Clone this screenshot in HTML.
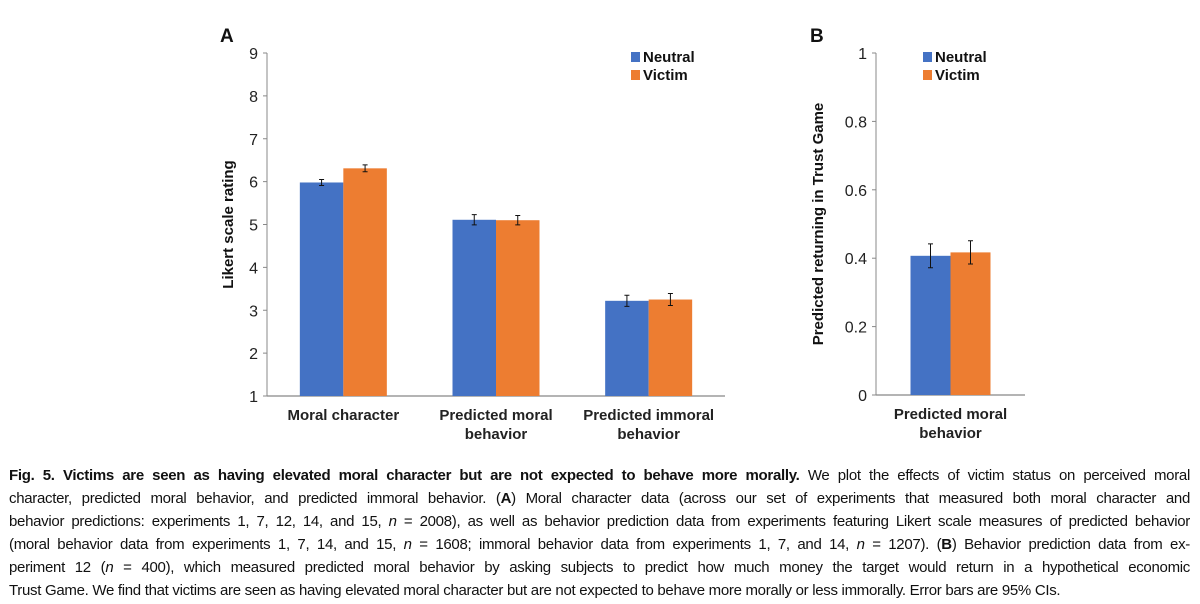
<!DOCTYPE html>
<html><head><meta charset="utf-8"><style>
body{margin:0;background:#fff;width:1200px;height:604px;overflow:hidden;font-family:"Liberation Sans",sans-serif}
svg text{font-family:"Liberation Sans",sans-serif}
.cap{position:absolute;left:9px;width:1181px;font-family:"Liberation Sans Narrow","Liberation Sans",sans-serif;font-size:15px;letter-spacing:-0.3px;line-height:23px;color:#111;text-align:justify;text-align-last:justify;white-space:nowrap}
</style></head><body>
<svg width="1200" height="460" style="position:absolute;left:0;top:0" id="chart"></svg>
<div>
<div class="cap" style="top:464px"><b>Fig. 5. Victims are seen as having elevated moral character but are not expected to behave more morally.</b> We plot the effects of victim status on perceived moral</div>
<div class="cap" style="top:487px">character, predicted moral behavior, and predicted immoral behavior. (<b>A</b>) Moral character data (across our set of experiments that measured both moral character and</div>
<div class="cap" style="top:510px">behavior predictions: experiments 1, 7, 12, 14, and 15, <i>n</i> = 2008), as well as behavior prediction data from experiments featuring Likert scale measures of predicted behavior</div>
<div class="cap" style="top:533px">(moral behavior data from experiments 1, 7, 14, and 15, <i>n</i> = 1608; immoral behavior data from experiments 1, 7, and 14, <i>n</i> = 1207). (<b>B</b>) Behavior prediction data from ex-</div>
<div class="cap" style="top:556px">periment 12 (<i>n</i> = 400), which measured predicted moral behavior by asking subjects to predict how much money the target would return in a hypothetical economic</div>
<div class="cap" style="top:579px;text-align-last:left">Trust Game. We find that victims are seen as having elevated moral character but are not expected to behave more morally or less immorally. Error bars are 95% CIs.</div>
</div>
<script>
const categoriesA = [["Moral character"],["Predicted moral","behavior"],["Predicted immoral","behavior"]];
const neutralA = [5.98, 5.11, 3.22];
const victimA = [6.31, 5.10, 3.25];
const neutralErrA = [0.07, 0.12, 0.13];
const victimErrA = [0.08, 0.11, 0.14];
const ticksA = [1,2,3,4,5,6,7,8,9];
const categoriesB = [["Predicted moral","behavior"]];
const neutralB = [0.407];
const victimB = [0.417];
const neutralErrB = [0.035];
const victimErrB = [0.034];
const ticksB = ["0","0.2","0.4","0.6","0.8","1"];
const BLUE="#4472c4", ORANGE="#ed7d31";
const svg=document.getElementById('chart');
function mk(tag,attrs,name,txt){const e=document.createElementNS('http://www.w3.org/2000/svg',tag);for(const k in attrs)e.setAttribute(k,attrs[k]);


if(txt!==undefined)e.textContent=txt;svg.appendChild(e);return e;}
function panel(o){
  const y=v=>o.y0-(v-o.min)/(o.max-o.min)*(o.y0-o.y1);
  mk('line',{x1:o.ax,y1:o.y1,x2:o.ax,y2:o.y0,stroke:'#888','stroke-width':1},'y-axis-line');
  mk('line',{x1:o.ax,y1:o.y0,x2:o.axEnd,y2:o.y0,stroke:'#888','stroke-width':1.3},'x-axis-line');
  o.ticks.forEach(t=>{const v=parseFloat(t);
    mk('line',{x1:o.ax-4,y1:y(v),x2:o.ax,y2:y(v),stroke:'#888'},'y-tick');
    mk('text',{x:o.ax-9,y:y(v)+6,'text-anchor':'end','font-size':16,fill:'#222'},'y-tick-label',String(t));});
  const gw=(o.axEnd-o.ax)/o.cats.length;
  o.cats.forEach((c,i)=>{const cx=o.ax+gw*(i+0.5);
    [[o.neu,o.neuE,BLUE,-1,'bar-neutral'],[o.vic,o.vicE,ORANGE,0,'bar-victim']].forEach(([vals,errs,col,off,nm])=>{
      const x=cx+off*o.bw;
      mk('rect',{x:x,y:y(vals[i]),width:o.bw,height:o.y0-y(vals[i]),fill:col},nm);
      const ex=x+o.bw/2,t=y(vals[i]+errs[i]),b=y(vals[i]-errs[i]);
      mk('path',{d:`M${ex},${t}V${b}M${ex-2.5},${t}H${ex+2.5}M${ex-2.5},${b}H${ex+2.5}`,stroke:'#111','stroke-width':1,fill:'none'},'error-bar');
    });
    c.forEach((l,j)=>mk('text',{x:cx,y:o.y0+24+j*19,'text-anchor':'middle','font-size':15,'font-weight':'bold',fill:'#222'},'x-category-label',l));
  });
  const ty=(o.y0+o.y1)/2;
  mk('text',{x:o.tx,y:ty,transform:`rotate(-90 ${o.tx} ${ty})`,'text-anchor':'middle','font-size':15,'font-weight':'bold',fill:'#111'},'y-axis-title',o.title);
  mk('rect',{x:o.lx,y:52,width:9,height:10,fill:BLUE},'legend-swatch-neutral');
  mk('text',{x:o.lx+12,y:62,'font-size':15,'font-weight':'bold',fill:'#111'},'legend-neutral','Neutral');
  mk('rect',{x:o.lx,y:70,width:9,height:10,fill:ORANGE},'legend-swatch-victim');
  mk('text',{x:o.lx+12,y:80,'font-size':15,'font-weight':'bold',fill:'#111'},'legend-victim','Victim');
  mk('text',{x:o.px,y:42,'font-size':19,'font-weight':'bold',fill:'#111'},'panel-label',o.p);
}
panel({ax:267,axEnd:725,y0:396,y1:53,min:1,max:9,ticks:ticksA,cats:categoriesA,neu:neutralA,vic:victimA,neuE:neutralErrA,vicE:victimErrA,bw:43.5,tx:233,title:'Likert scale rating',lx:631,px:220,p:'A'});
panel({ax:876,axEnd:1025,y0:395,y1:53,min:0,max:1,ticks:ticksB,cats:categoriesB,neu:neutralB,vic:victimB,neuE:neutralErrB,vicE:victimErrB,bw:40,tx:823,title:'Predicted  returning in Trust Game',lx:923,px:810,p:'B'});
</script>
</body></html>
